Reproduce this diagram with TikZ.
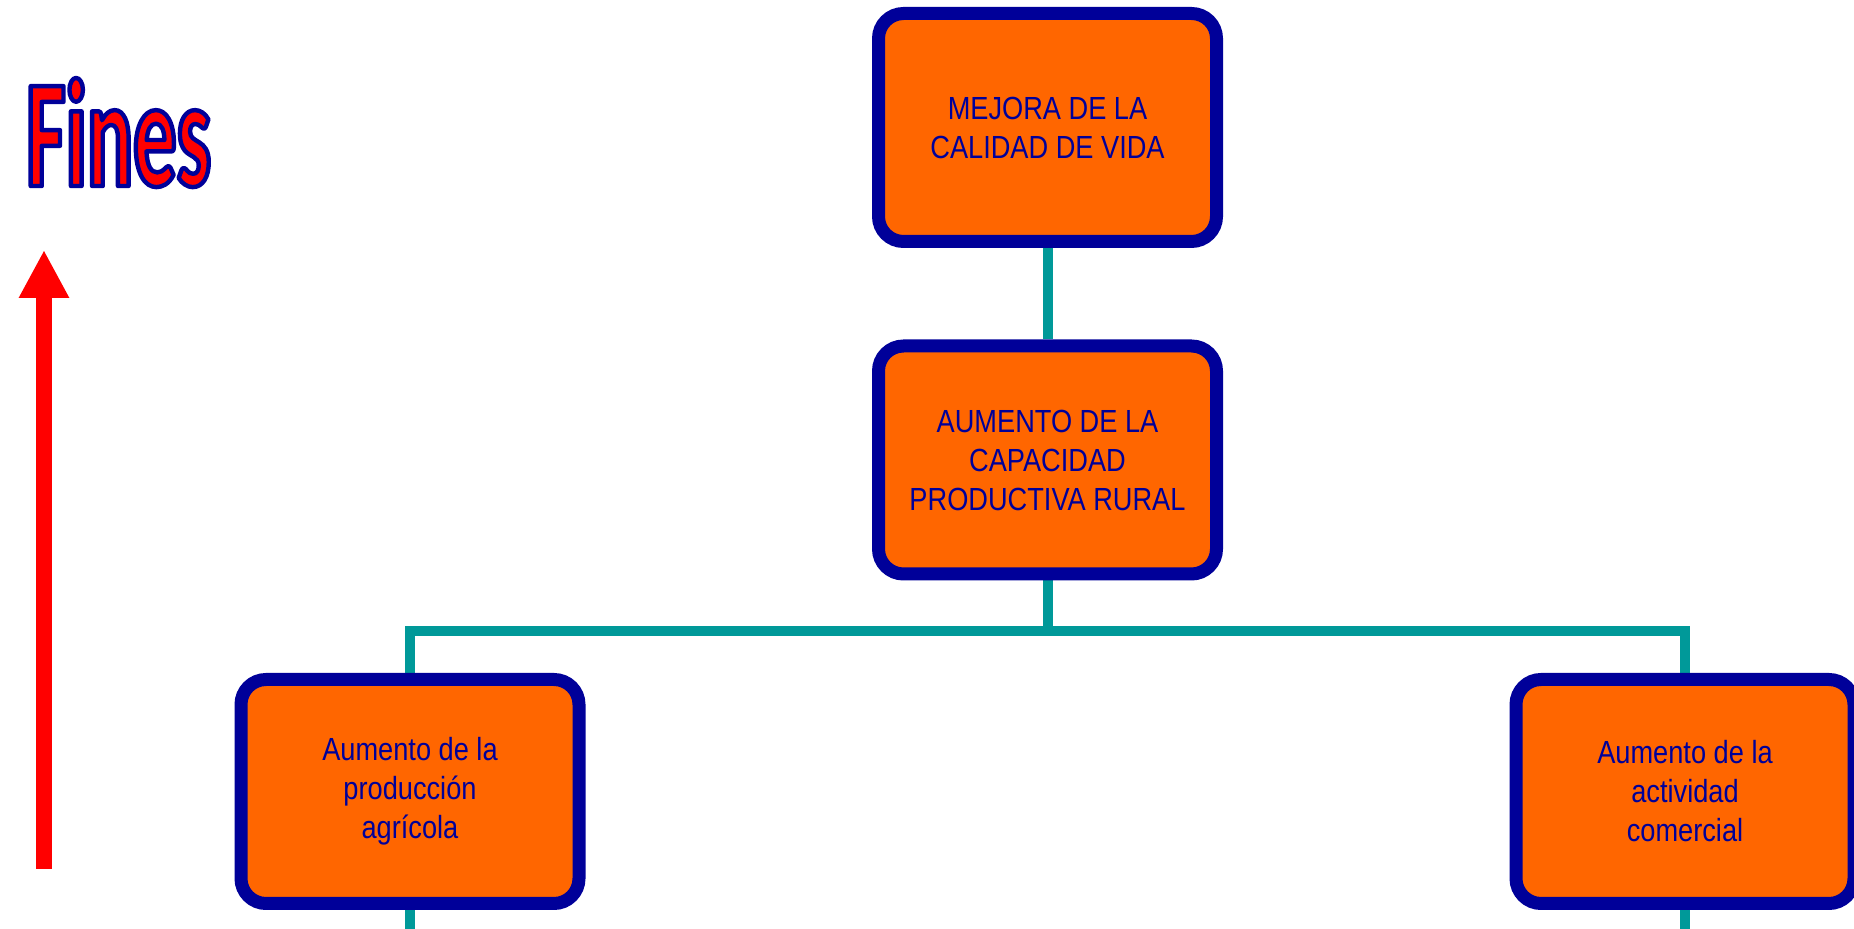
\documentclass[tikz,border=0pt]{standalone}
\usepackage{fontspec}
\setmainfont{Liberation Sans}
\newfontfamily\boxfont[FakeStretch=0.85]{Liberation Sans}
\newfontfamily\titlefont[FakeStretch=0.56]{Carlito}
\usetikzlibrary{arrows.meta}
\pgfdeclarelayer{background}
\pgfsetlayers{background,main}

\definecolor{boxorange}{HTML}{FF6600}
\definecolor{boxnavy}{HTML}{000099}
\definecolor{linkteal}{HTML}{009999}
\definecolor{arrowred}{HTML}{FF0000}

% red letters with a navy stroke round them (PDF text render mode 2)
\newcommand{\outlinedword}[1]{%
  \special{pdf:code 0 0 0.6 RG 2.2 w 1 j 2 Tr}#1\special{pdf:code 0 Tr}}

\tikzset{
  goalbox/.style={draw=boxnavy, line width=6.5pt, fill=boxorange,
    rounded corners=12.5pt, minimum width=169pt, minimum height=114pt,
    inner sep=0pt, align=center, text=boxnavy,
    font=\boxfont\fontsize{16pt}{19.5pt}\selectfont},
  smallgoal/.style={goalbox, minimum height=112pt},
  link/.style={draw=linkteal, line width=5pt},
  titletext/.style={anchor=base, inner sep=0pt, text=arrowred,
    font=\titlefont\bfseries\fontsize{77pt}{77pt}\selectfont},
}

\begin{document}
\begin{tikzpicture}[x=0.5pt, y=-0.5pt]
  \useasboundingbox (0,0) rectangle (1854,929);

  % objective tree
  \node[goalbox] (top) at (1047.5,127.5) {MEJORA DE LA\\CALIDAD DE VIDA};
  \node[goalbox] (mid) at (1047.5,460) {AUMENTO DE LA\\CAPACIDAD\\PRODUCTIVA RURAL};
  \node[smallgoal] (left) at (410,791.5) {Aumento de la\\producción\\agrícola};
  \node[smallgoal] (right) at (1685,791.5) {Aumento de la\\actividad\\comercial};

  \coordinate (bus) at (1047.5,631);
  \coordinate (floor) at (0,940);

  \begin{pgfonlayer}{background}
    \draw[link] (top.south) -- (mid.north);
    \draw[link] (mid.south) -- (bus);
    \draw[link] (left.north) |- (bus) -| (right.north);
    \draw[link] (left.south) -- (left.south |- floor);
    \draw[link] (right.south) -- (right.south |- floor);
  \end{pgfonlayer}

  % heading
  \node[titletext] (fines) at (118.5,186) {\outlinedword{Fines}};

  % upward arrow
  \coordinate (arrowfoot) at (44,869);
  \coordinate (arrowtip) at (44,250);
  \draw[arrowred, line width=8pt, -{Triangle[width=23.5pt, length=24pt]}]
    (arrowfoot) -- (arrowtip);
\end{tikzpicture}
\end{document}
